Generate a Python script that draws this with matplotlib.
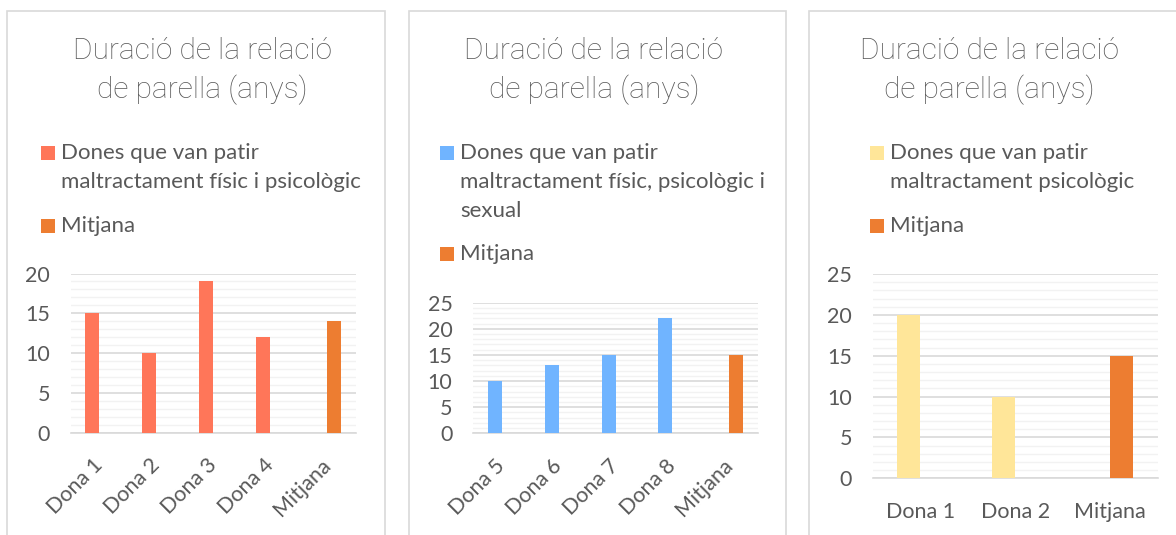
import numpy as np
import matplotlib
matplotlib.use("Agg")
import matplotlib.pyplot as plt
from matplotlib.patches import Rectangle

plt.rcParams['font.family'] = ['Lato', 'DejaVu Sans']

W, H = 1176, 535
TEXT = '#595959'
GRID_MAJ = '#D9D9D9'
GRID_MIN = '#F2F2F2'
MEAN_COLOR = '#ED7D31'

title = "Duració de la relació\nde parella (anys)"

# panel 1
cats1 = ['Dona 1', 'Dona 2', 'Dona 3', 'Dona 4', 'Mitjana']
vals1 = [15, 10, 19, 12, None]
mean1 = 14
leg1 = ['Dones que van patir', 'maltractament físic i psicològic']
color1 = '#FF7659'

# panel 2
cats2 = ['Dona 5', 'Dona 6', 'Dona 7', 'Dona 8', 'Mitjana']
vals2 = [10, 13, 15, 22, None]
mean2 = 15
leg2 = ['Dones que van patir', 'maltractament físic, psicològic i', 'sexual']
color2 = '#70B4FF'

# panel 3
cats3 = ['Dona 1', 'Dona 2', 'Mitjana']
vals3 = [20, 10, None]
mean3 = 15
leg3 = ['Dones que van patir', 'maltractament psicològic']
color3 = '#FFE699'


def fx(px):
    return px / W


def fy(py):
    return 1 - py / H


fig = plt.figure(figsize=(W / 100, H / 100), dpi=100)
fig.patch.set_facecolor('white')

# panel borders
for x0, x1 in [(7, 385), (409, 786), (809, 1200)]:
    fig.add_artist(Rectangle((fx(x0), fy(560)), fx(x1 - x0), (560 - 11) / H,
                             transform=fig.transFigure, fill=False,
                             edgecolor='#D9D9D9', linewidth=1.2))


def panel(rect, cats, vals, mean, color, ymax, rotate, bw):
    ax = fig.add_axes([fx(rect[0]), fy(rect[3]), fx(rect[2] - rect[0]), (rect[3] - rect[1]) / H])
    x = np.arange(len(cats))
    v = [np.nan if a is None else a for a in vals]
    m = [np.nan] * (len(cats) - 1) + [mean]
    ax.bar(x - bw / 2, v, width=bw, color=color, zorder=3)
    ax.bar(x + bw / 2, m, width=bw, color=MEAN_COLOR, zorder=3)
    ax.set_xlim(-0.5, len(cats) - 0.5)
    ax.set_ylim(0, ymax)
    ax.set_yticks(np.arange(0, ymax + 1, 5))
    ax.set_yticks(np.arange(0, ymax + 1, 1), minor=True)
    ax.grid(axis='y', which='major', color=GRID_MAJ, linewidth=1.2, zorder=0)
    ax.grid(axis='y', which='minor', color=GRID_MIN, linewidth=1.0, zorder=0)
    for s in ['top', 'right', 'left']:
        ax.spines[s].set_visible(False)
    ax.spines['bottom'].set_color(GRID_MAJ)
    ax.spines['bottom'].set_linewidth(1.2)
    ax.tick_params(axis='both', which='both', length=0, colors=TEXT, labelsize=15.5)
    ax.tick_params(axis='y', pad=15)
    ax.set_xticks(x)
    if rotate:
        ax.set_xticklabels(cats, rotation=45, ha='right', va='center', rotation_mode='anchor')
        ax.tick_params(axis='x', pad=21)
    else:
        ax.set_xticklabels(cats)
        ax.tick_params(axis='x', pad=17)
    ax.set_facecolor('none')
    return ax


panel((70.7, 273.5, 356, 433), cats1, vals1, mean1, color1, 20, True, 0.245)
panel((473.3, 302.7, 757.7, 433.3), cats2, vals2, mean2, color2, 25, True, 0.245)
panel((872.7, 274, 1157.7, 478.3), cats3, vals3, mean3, color3, 25, False, 0.245)

# titles
for cx in [202.5, 594, 989]:
    lines = title.split('\n')
    fig.text(fx(cx), fy(51), lines[0], ha='center', va='center', fontsize=21.5,
             family=['Roboto', 'DejaVu Sans'], fontweight='light', color=TEXT)
    fig.text(fx(cx), fy(90), lines[1], ha='center', va='center', fontsize=21.5,
             family=['Roboto', 'DejaVu Sans'], fontweight='light', color=TEXT)

# legends
def legend(x_sq, lines, color, y0, y_mean):
    for i, t in enumerate(lines):
        fig.text(fx(x_sq + 20), fy(y0 + 29 * i), t, ha='left', va='center',
                 fontsize=16, color=TEXT)
    for yy, c in [(y0, color), (y_mean, MEAN_COLOR)]:
        fig.add_artist(Rectangle((fx(x_sq), fy(yy + 7)), fx(14), 14 / H,
                                 transform=fig.transFigure, color=c, linewidth=0))
    fig.text(fx(x_sq + 20), fy(y_mean), 'Mitjana', ha='left', va='center',
             fontsize=16, color=TEXT)


legend(41, leg1, color1, 153, 226)
legend(440, leg2, color2, 153, 254)
legend(870, leg3, color3, 153, 226)

fig.savefig('out.png', dpi=100, facecolor='white')
